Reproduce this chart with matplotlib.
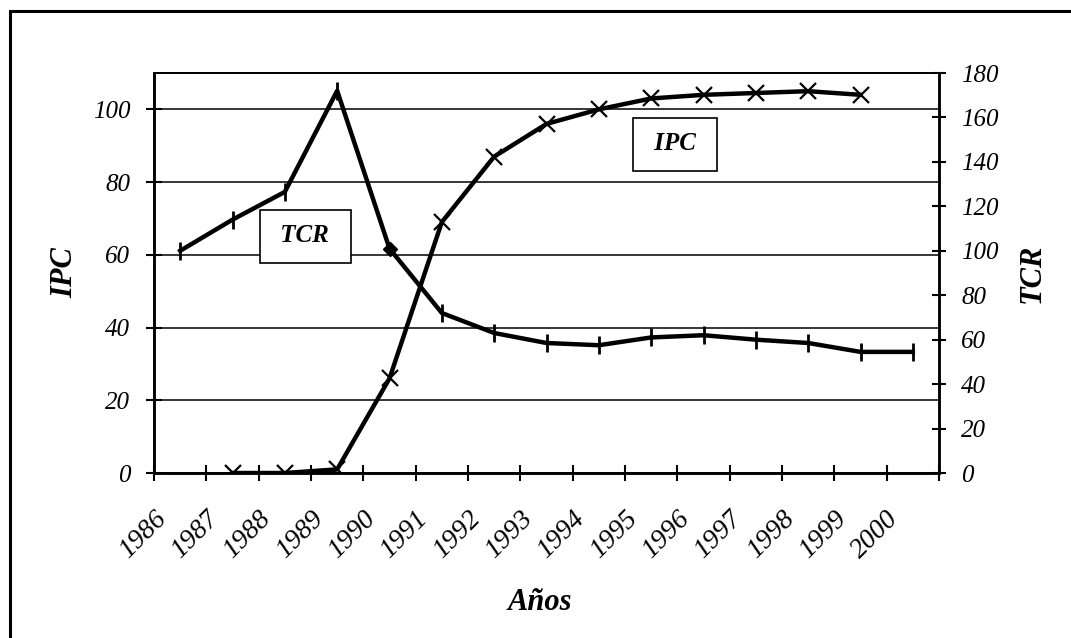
import numpy as np
import matplotlib
matplotlib.use('Agg')
import matplotlib.pyplot as plt
import matplotlib.transforms as mtransforms
from matplotlib.patches import Rectangle

# Datos
years = ['1986', '1987', '1988', '1989', '1990', '1991', '1992', '1993',
         '1994', '1995', '1996', '1997', '1998', '1999', '2000']
ipc = [np.nan, 0, 0, 1, 26, 69, 87, 96, 100, 103, 104, 104.5, 105, 104, np.nan]
tcr = [100, 114, 126.5, 172, 101, 72, 63, 58.5, 57.5, 61, 62, 60, 58.5, 54.5, 54.5]

ipc_ticks = [0, 20, 40, 60, 80, 100]
tcr_ticks = [0, 20, 40, 60, 80, 100, 120, 140, 160, 180]

plt.rcParams['font.family'] = ['Liberation Serif', 'DejaVu Serif']

fig = plt.figure(figsize=(10.71, 6.38), dpi=100)
W, H = 1071, 638
ax = fig.add_axes([154 / W, 1 - 473 / H, (939 - 154) / W, (473 - 73) / H])
ax2 = ax.twinx()

x = np.arange(len(years))

# IPC (eje izquierdo)
ax.plot(x, ipc, color='black', lw=3.2, marker='x', markersize=11, mew=1.6, zorder=3)

# TCR (eje derecho)
idx = [i for i in range(len(years)) if i != 4]
ax2.plot(x, tcr, color='black', lw=3.2, zorder=3)
ax2.plot(x[idx], np.array(tcr)[idx], ls='none', color='black', marker='|', markersize=13, mew=2)
ax2.plot(x[4], tcr[4], ls='none', color='black', marker='D', markersize=7)

ax.set_xlim(-0.5, len(years) - 0.5)
ax.set_ylim(0, 110)
ax2.set_ylim(0, 180)

ax.set_yticks(ipc_ticks)
ax.set_yticklabels([str(v) for v in ipc_ticks], fontsize=18, style='italic')
ax2.set_yticks(tcr_ticks)
ax2.set_yticklabels([str(v) for v in tcr_ticks], fontsize=18, style='italic')

ax.yaxis.grid(True, color='black', lw=1.1)
ax.set_axisbelow(True)

# ticks del eje x entre categorias
ax.set_xticks(x)
ax.set_xticklabels(years, fontsize=20, style='italic', rotation=45,
                   ha='right', va='center', rotation_mode='anchor')
ax.set_xticks(np.arange(-0.5, len(years)), minor=True)
ax.tick_params(axis='x', which='major', length=0, pad=0)
ax.tick_params(axis='x', which='minor', direction='inout', length=12, width=1.5)
ax.tick_params(axis='y', direction='inout', length=12, width=1.5, pad=11)
ax2.tick_params(axis='y', direction='inout', length=10, width=1.5, pad=11)

offset = mtransforms.ScaledTranslation(-18 / 100, -42 / 100, fig.dpi_scale_trans)
for lab in ax.xaxis.get_majorticklabels():
    lab.set_transform(lab.get_transform() + offset)

for a in (ax, ax2):
    for s in a.spines.values():
        s.set_linewidth(1.8)
    a.spines['top'].set_linewidth(1.3)

ax.set_ylabel('IPC', fontsize=22, fontweight='bold', style='italic', labelpad=10)
ax2.set_ylabel('TCR', fontsize=22, fontweight='bold', style='italic', labelpad=14)
fig.text(540 / W, 1 - 602 / H, 'Años', fontsize=22, fontweight='bold', style='italic',
         ha='center', va='center')

# cuadros de etiqueta
box = dict(boxstyle='square,pad=0.6', fc='white', ec='black', lw=1.2)
ax.text((305 - 154) / 785, (473 - 236) / 400, ' TCR ', transform=ax.transAxes,
        fontsize=18, fontweight='bold', style='italic', ha='center', va='center',
        bbox=box, zorder=5)
ax.text((675 - 154) / 785, (473 - 144) / 400, ' IPC ', transform=ax.transAxes,
        fontsize=18, fontweight='bold', style='italic', ha='center', va='center',
        bbox=box, zorder=5)

# marco exterior
fig.add_artist(Rectangle((10 / W, -0.1), 1.2, 1.1 - 11 / H, transform=fig.transFigure,
                         fill=False, ec='black', lw=2.2))

fig.savefig('out.png', dpi=100)
